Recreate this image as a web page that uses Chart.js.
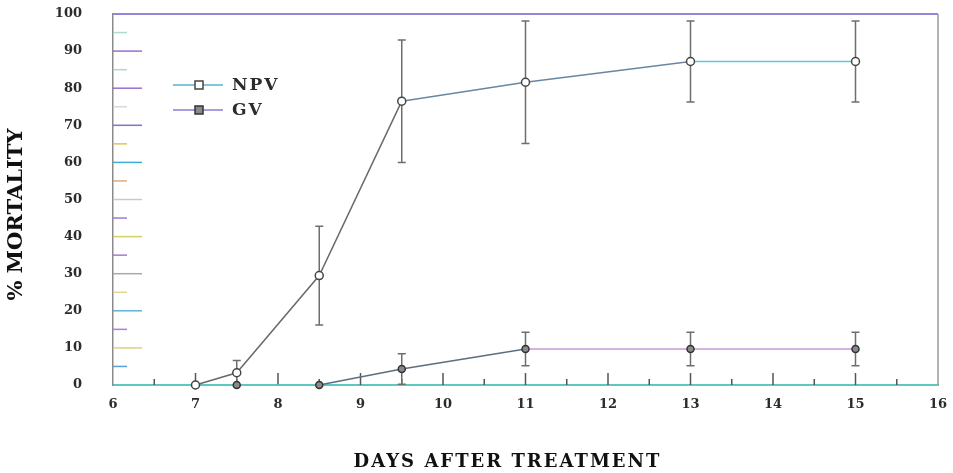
<!DOCTYPE html>
<html>
<head>
<meta charset="utf-8">
<script src="https://cdn.jsdelivr.net/npm/chart.js@4/dist/chart.umd.min.js"></script>
<style>
  html, body { margin: 0; padding: 0; background: #fff; }
  #wrap { width: 953px; height: 473px; }
</style>
</head>
<body>
<div id="wrap"><canvas id="mortalityChart" width="953" height="473"></canvas></div>
<script>
// data
const DAYS = [7, 7.5, 8.5, 9.5, 11, 13, 15];
const NPV = [0, 3.3, 29.5, 76.5, 81.6, 87.2, 87.2];
const NPV_SD = [0, 3.3, 13.3, 16.5, 16.5, 10.9, 10.9];
const GV = [0, 0, 0, 4.3, 9.7, 9.7, 9.7];
const GV_SD = [0, 0, 0, 4.1, 4.5, 4.5, 4.5];
const X_TICKS = [6, 7, 8, 9, 10, 11, 12, 13, 14, 15, 16];
const Y_TICKS = [0, 10, 20, 30, 40, 50, 60, 70, 80, 90, 100];

const SERIF = "'DejaVu Serif', serif";
const COLORS = {
    text: '#2b2b2b',
    dark: '#555555',
    errbar: '#6e6e6e',
    xaxis: '#5cc8c0',
    yaxis: '#8a8a8a',
    top: '#9484dc',
    right: '#9a9a9a',
    npvLegend: '#58b4cc',
    gvLegend: '#8c7cd4',
};

// segment colours of the scanned lines (index = segment start)
const NPV_SEG = ['#6a6a6a', '#6a6a6a', '#6a6a6a', '#6a86a0', '#6a86a0', '#62c8d8'];
const GV_SEG = [COLORS.xaxis, COLORS.xaxis, '#5d6e80', '#5d6e80', '#c898d8', '#c898d8'];

// colours of the little inner y ticks, every 5 %
const Y_TICK_COLORS = ['#c9c6a0', '#5b9fd6', '#dcd27a', '#b47ad8', '#58b8d0', '#e0d890',
    '#a9a9a9', '#a07ad8', '#d6cc6a', '#a07ad8', '#c8c8c8', '#e4a878', '#3ab0d4',
    '#e2c25a', '#8a6cd4', '#d8d8d8', '#9a6cd8', '#a8dccc', '#9a6cd8', '#a8dccc', '#9484dc'];

const toPoints = (ys) => DAYS.map((d, i) => ({ x: d, y: ys[i] }));

const errorBars = {
    id: 'errorBars',
    beforeDatasetsDraw(chart) {
        const { ctx, scales: { x, y } } = chart;
        ctx.save();
        ctx.strokeStyle = COLORS.errbar;
        ctx.lineWidth = 1.5;
        chart.data.datasets.forEach((ds) => {
            ds.data.forEach((p, i) => {
                const sd = ds.sd[i];
                if (!sd) return;
                const px = x.getPixelForValue(p.x);
                const top = y.getPixelForValue(p.y + sd);
                const bot = y.getPixelForValue(Math.max(0, p.y - sd));
                ctx.beginPath();
                ctx.moveTo(px, top); ctx.lineTo(px, bot);
                ctx.moveTo(px - 4, top); ctx.lineTo(px + 4, top);
                ctx.moveTo(px - 4, bot); ctx.lineTo(px + 4, bot);
                ctx.stroke();
            });
        });
        ctx.restore();
    }
};

const frame = {
    id: 'frame',
    beforeDatasetsDraw(chart) {
        const { ctx, chartArea: a, scales: { x, y } } = chart;
        ctx.save();
        ctx.lineWidth = 1.5;
        // inner y ticks
        y.ticks.forEach((t) => {
            if (t.value === 0) return;
            const py = y.getPixelForValue(t.value);
            ctx.strokeStyle = Y_TICK_COLORS[Math.round(t.value / 5)];
            ctx.beginPath();
            ctx.moveTo(a.left, py);
            ctx.lineTo(a.left + (t.value % 10 === 0 ? 29 : 14), py);
            ctx.stroke();
        });
        // inner x ticks
        ctx.strokeStyle = COLORS.dark;
        x.ticks.forEach((t) => {
            if (t.value === x.min || t.value === x.max) return;
            const px = x.getPixelForValue(t.value);
            ctx.beginPath();
            ctx.moveTo(px, a.bottom);
            ctx.lineTo(px, a.bottom - (Number.isInteger(t.value) ? 12 : 6));
            ctx.stroke();
        });
        ctx.lineWidth = 2;
        ctx.strokeStyle = COLORS.top;
        ctx.beginPath(); ctx.moveTo(a.left, a.top); ctx.lineTo(a.right, a.top); ctx.stroke();
        ctx.lineWidth = 1.5;
        ctx.strokeStyle = COLORS.right;
        ctx.beginPath(); ctx.moveTo(a.right, a.top); ctx.lineTo(a.right, a.bottom); ctx.stroke();
        ctx.restore();
    }
};

const insetLegend = {
    id: 'insetLegend',
    afterDraw(chart) {
        const { ctx, chartArea: a } = chart;
        ctx.save();
        chart.data.datasets.forEach((ds, i) => {
            const yy = a.top + 71 + i * 25;
            const x0 = a.left + 60;
            ctx.strokeStyle = ds.legendColor;
            ctx.lineWidth = 1.5;
            ctx.beginPath(); ctx.moveTo(x0, yy); ctx.lineTo(x0 + 50, yy); ctx.stroke();
            ctx.fillStyle = ds.pointBackgroundColor;
            ctx.strokeStyle = ds.pointBorderColor;
            ctx.fillRect(x0 + 22, yy - 4, 8, 8);
            ctx.strokeRect(x0 + 22, yy - 4, 8, 8);
            ctx.fillStyle = COLORS.text;
            ctx.font = "bold 17px " + SERIF;
            ctx.letterSpacing = '2px';
            ctx.textBaseline = 'middle';
            ctx.fillText(ds.label, x0 + 59, yy + 1);
        });
        ctx.restore();
    }
};

// shift / space the axis titles like the printed figure
const TITLE_NUDGE = { x: { dx: -18, dy: 0, spacing: '2px' }, y: { dx: 0, dy: 15, spacing: '0px' } };
const titleNudge = {
    id: 'titleNudge',
    afterLayout(chart) {
        Object.entries(TITLE_NUDGE).forEach(([id, n]) => {
            const s = chart.scales[id];
            if (!s || s._nudged) return;
            const orig = s.drawTitle;
            s.drawTitle = function () {
                this.ctx.save();
                this.ctx.translate(n.dx, n.dy);
                this.ctx.letterSpacing = n.spacing;
                orig.call(this);
                this.ctx.restore();
            };
            s._nudged = true;
        });
    }
};

new Chart(document.getElementById('mortalityChart'), {
    type: 'line',
    data: {
        datasets: [
            {
                label: 'NPV',
                data: toPoints(NPV),
                sd: NPV_SD,
                legendColor: COLORS.npvLegend,
                borderColor: '#6a6a6a',
                borderWidth: 1.5,
                segment: { borderColor: (c) => NPV_SEG[c.p0DataIndex] },
                pointRadius: 4,
                pointBackgroundColor: '#ffffff',
                pointBorderColor: '#444444',
                pointBorderWidth: 1.5,
                tension: 0,
                clip: false,
            },
            {
                label: 'GV',
                data: toPoints(GV),
                sd: GV_SD,
                legendColor: COLORS.gvLegend,
                borderColor: '#5d6e80',
                borderWidth: 1.5,
                segment: { borderColor: (c) => GV_SEG[c.p0DataIndex] },
                pointRadius: 3.5,
                pointBackgroundColor: '#8a8a8a',
                pointBorderColor: '#333333',
                pointBorderWidth: 1.5,
                tension: 0,
                clip: false,
            }
        ]
    },
    options: {
        responsive: false,
        animation: false,
        layout: { padding: { top: 14, right: 15, left: 0, bottom: 0 } },
        plugins: {
            legend: { display: false },
            tooltip: { enabled: false }
        },
        scales: {
            x: {
                type: 'linear',
                min: X_TICKS[0],
                max: X_TICKS[X_TICKS.length - 1],
                afterFit: (s) => { s.height = 88; s.paddingLeft = 0; s.paddingRight = 0; },
                afterBuildTicks: (s) => {
                    const t = [];
                    for (let v = s.min; v <= s.max; v += 0.5) t.push({ value: v });
                    s.ticks = t;
                },
                ticks: {
                    autoSkip: false,
                    maxRotation: 0,
                    padding: 12,
                    color: COLORS.text,
                    font: { family: SERIF, weight: 'bold', size: 13 },
                    callback: (v) => (X_TICKS.includes(v) ? String(v) : '')
                },
                grid: { drawOnChartArea: false, drawTicks: false },
                border: { color: COLORS.xaxis, width: 2 },
                title: {
                    display: true,
                    text: 'DAYS AFTER TREATMENT',
                    color: '#111',
                    font: { family: SERIF, weight: 'bold', size: 18 },
                    padding: { top: 0, bottom: 0 }
                }
            },
            y: {
                min: Y_TICKS[0],
                max: Y_TICKS[Y_TICKS.length - 1],
                afterFit: (s) => { s.width = 113; s.paddingTop = 0; s.paddingBottom = 0; },
                ticks: {
                    stepSize: 5,
                    autoSkip: false,
                    padding: 31,
                    color: COLORS.text,
                    font: { family: SERIF, weight: 'bold', size: 13 },
                    callback: (v) => (Y_TICKS.includes(v) ? String(v) : '')
                },
                grid: { drawOnChartArea: false, drawTicks: false },
                border: { color: COLORS.yaxis, width: 1.5 },
                title: {
                    display: true,
                    text: '% MORTALITY',
                    color: '#111',
                    font: { family: SERIF, weight: 'bold', size: 21 },
                    padding: { top: 4, bottom: 0 }
                }
            }
        }
    },
    plugins: [titleNudge, frame, errorBars, insetLegend]
});
</script>
</body>
</html>
